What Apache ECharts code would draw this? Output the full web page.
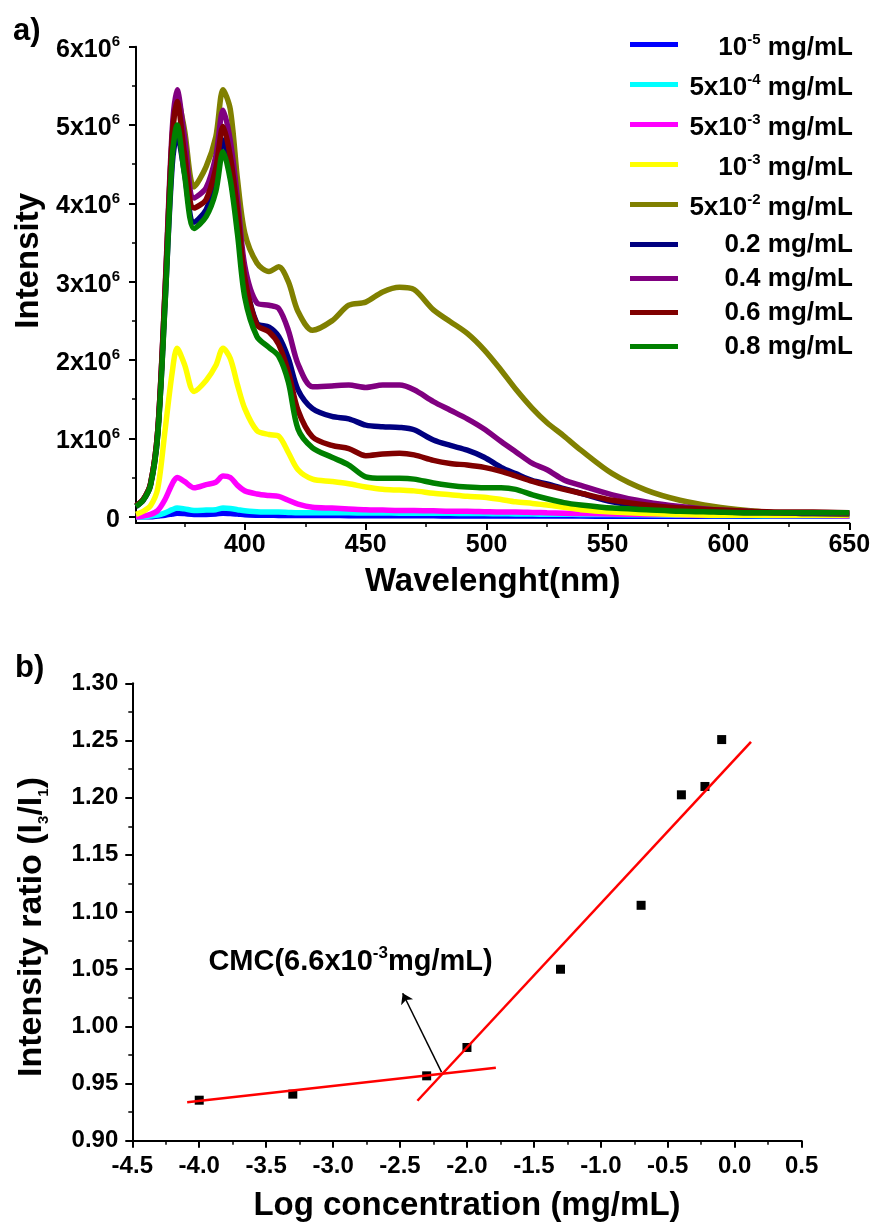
<!DOCTYPE html>
<html><head><meta charset="utf-8">
<script src="https://cdn.jsdelivr.net/npm/echarts@6/dist/echarts.min.js"></script>
<style>html,body{margin:0;padding:0;background:#fff}#c{width:874px;height:1228px}</style>
</head><body><div id="c"></div>
<script>
// ---------- data (a): emission spectra, intensity in units of 10^6 ----------
const wavelengths = [355,358,361,364,367,370,372,375,379,384,388,391,394,397,400,405,410,414,418,422,428,436,443,450,457,464,470,478,485,492,499,506,512,519,525,532,539,552,566,580,594,608,621,635,650];
const c1e5 = [0,0,0,0.01,0.02,0.035,0.045,0.04,0.03,0.03,0.035,0.045,0.04,0.035,0.025,0.02,0.018,0.017,0.016,0.015,0.015,0.015,0.014,0.013,0.012,0.012,0.011,0.011,0.01,0.01,0.01,0.01,0.01,0.009,0.009,0.008,0.008,0.007,0.006,0.006,0.005,0.005,0.005,0.005,0.005];
const c5e4 = [0,0,0.01,0.02,0.05,0.09,0.11,0.1,0.08,0.085,0.09,0.11,0.105,0.09,0.075,0.065,0.06,0.06,0.055,0.05,0.05,0.05,0.05,0.048,0.047,0.046,0.045,0.044,0.043,0.042,0.04,0.038,0.036,0.034,0.032,0.031,0.03,0.027,0.024,0.02,0.017,0.015,0.013,0.012,0.01];
const c5e3 = [0,0.01,0.03,0.08,0.22,0.42,0.5,0.45,0.37,0.41,0.44,0.52,0.5,0.4,0.33,0.29,0.27,0.26,0.21,0.16,0.12,0.11,0.1,0.09,0.085,0.08,0.08,0.075,0.07,0.07,0.065,0.06,0.06,0.055,0.05,0.045,0.04,0.035,0.03,0.025,0.02,0.02,0.015,0.015,0.01];
const c1e3 = [0.03,0.07,0.14,0.36,1.1,1.85,2.15,1.95,1.6,1.74,1.93,2.15,2.02,1.68,1.38,1.1,1.05,1.03,0.82,0.6,0.48,0.45,0.42,0.38,0.35,0.34,0.33,0.3,0.28,0.26,0.25,0.22,0.19,0.17,0.15,0.12,0.09,0.06,0.04,0.03,0.02,0.02,0.02,0.02,0.02];
const c5e2 = [0.14,0.22,0.42,1.1,2.85,4.85,5.35,4.95,4.21,4.47,4.85,5.45,5.2,4.3,3.62,3.24,3.13,3.19,3.0,2.62,2.38,2.5,2.7,2.74,2.87,2.93,2.9,2.64,2.49,2.34,2.13,1.87,1.63,1.38,1.2,1.03,0.85,0.55,0.34,0.21,0.13,0.08,0.05,0.04,0.03];
const c02 = [0.13,0.21,0.4,1.05,2.72,4.5,4.88,4.4,3.76,3.92,4.3,4.81,4.45,3.8,3.05,2.47,2.42,2.3,2.02,1.62,1.38,1.28,1.25,1.17,1.15,1.14,1.11,0.98,0.91,0.85,0.76,0.63,0.55,0.46,0.42,0.36,0.3,0.19,0.13,0.09,0.07,0.05,0.05,0.04,0.04];
const c04 = [0.14,0.22,0.42,1.1,2.9,4.95,5.45,4.85,4.07,4.2,4.6,5.19,4.8,4.05,3.2,2.73,2.7,2.66,2.38,1.95,1.66,1.67,1.68,1.65,1.68,1.68,1.62,1.47,1.36,1.25,1.12,0.96,0.83,0.68,0.6,0.47,0.4,0.28,0.19,0.13,0.09,0.07,0.05,0.05,0.04];
const c06 = [0.14,0.22,0.42,1.1,2.85,4.85,5.3,4.65,3.94,4.05,4.45,4.98,4.6,3.9,3.05,2.45,2.36,2.2,1.85,1.36,1.02,0.91,0.87,0.78,0.8,0.81,0.79,0.72,0.68,0.66,0.63,0.58,0.52,0.45,0.4,0.35,0.3,0.21,0.15,0.11,0.09,0.07,0.06,0.06,0.05];
const c08 = [0.13,0.21,0.4,1.05,2.7,4.6,5.0,4.38,3.68,3.83,4.15,4.66,4.3,3.6,2.8,2.3,2.16,2.05,1.72,1.12,0.88,0.76,0.66,0.51,0.49,0.49,0.48,0.43,0.4,0.38,0.37,0.37,0.35,0.28,0.23,0.18,0.15,0.11,0.09,0.07,0.06,0.05,0.05,0.05,0.05];
const seriesNames = ['10^-5 mg/mL','5x10^-4 mg/mL','5x10^-3 mg/mL','10^-3 mg/mL','5x10^-2 mg/mL','0.2 mg/mL','0.4 mg/mL','0.6 mg/mL','0.8 mg/mL'];
const legendParts = [['10','-5'],['5x10','-4'],['5x10','-3'],['10','-3'],['5x10','-2'],['0.2',null],['0.4',null],['0.6',null],['0.8',null]];
const xTicksA = [400,450,500,550,600,650];
const xMinorA = [375,425,475,525,575,625];
const yTicksA = [0,1,2,3,4,5,6];
const yMinorA = [0.5,1.5,2.5,3.5,4.5,5.5];

// ---------- data (b): I3/I1 ratio vs log concentration ----------
const logConc = [-4.0,-3.301,-2.301,-2.0,-1.301,-0.699,-0.398,-0.222,-0.097];
const ratio = [0.9355,0.9408,0.9568,0.9816,1.050,1.1059,1.2025,1.2098,1.2508];
const fitLow = [[-4.09,0.9338],[-1.784,0.9638]];
const fitHigh = [[-2.37,0.935],[0.122,1.2488]];
const arrowFrom = [-2.19,0.960];
const arrowTo = [-2.48,1.029];
const cmcAnchor = [-2.87,1.059];

// ---------- styles ----------
const FF = '"Liberation Sans", Arial, sans-serif';
const colors = ['#0000FF','#00FFFF','#FF00FF','#FFFF00','#808000','#000080','#800080','#800000','#008000'];
const spectra = [c1e5,c5e4,c5e3,c1e3,c5e2,c02,c04,c06,c08];
const B = 'bold';
const axisLineStyle = {show:true, onZero:false, lineStyle:{color:'#000', width:2}};
const hiddenLine = {show:false, onZero:false};

const chart = echarts.init(document.getElementById('c'), null, {renderer:'canvas'});

const option = {
  animation:false,
  backgroundColor:'#fff',
  textStyle:{fontFamily:FF, fontWeight:B, color:'#000'},
  title:[
    {text:'a)', left:13, top:16, padding:0, textStyle:{fontFamily:FF, fontSize:31, fontWeight:B, color:'#000'}},
    {text:'b)', left:15, top:653, padding:0, textStyle:{fontFamily:FF, fontSize:31, fontWeight:B, color:'#000'}}
  ],
  legend:{
    data:seriesNames, orient:'vertical', align:'left', right:21, top:32, padding:0, itemGap:8,
    itemWidth:48, itemHeight:5, icon:'rect',
    formatter:function(name){
      const p = legendParts[seriesNames.indexOf(name)];
      return p[1] ? '{m|'+p[0]+'}{s|'+p[1]+'}{m| mg/mL}' : '{p|'+p[0]+' mg/mL}';
    },
    textStyle:{
      width:170, fontFamily:FF, fontSize:26, fontWeight:B, color:'#000',
      rich:{
        m:{fontFamily:FF, fontSize:26, fontWeight:B, lineHeight:25, padding:[3,0,3,0], verticalAlign:'top', align:'right'},
        s:{fontFamily:FF, fontSize:15, fontWeight:B, lineHeight:15, verticalAlign:'top', align:'right'},
        p:{fontFamily:FF, fontSize:26, fontWeight:B, lineHeight:25, verticalAlign:'top', align:'right'}
      }
    }
  },
  grid:[
    {left:136, top:46.7, width:713.3, height:476.3},
    {left:132.3, top:683.3, width:669.3, height:457.5}
  ],
  xAxis:[
    {gridIndex:0, type:'value', position:'bottom', min:355, max:650, axisLine:axisLineStyle, splitLine:{show:false},
     axisTick:{show:true, customValues:xTicksA, length:7, lineStyle:{color:'#000', width:2}},
     axisLabel:{customValues:xTicksA, fontSize:25, fontWeight:B, fontFamily:FF, color:'#000', margin:10},
     name:'Wavelenght(nm)', nameLocation:'middle', nameGap:42,
     nameTextStyle:{fontSize:33, fontWeight:B, fontFamily:FF, color:'#000'}},
    {gridIndex:0, type:'value', position:'bottom', min:355, max:650, axisLine:hiddenLine, splitLine:{show:false},
     axisTick:{show:true, customValues:xMinorA, length:4, lineStyle:{color:'#000', width:1.5}},
     axisLabel:{show:false}},
    {gridIndex:1, type:'value', position:'bottom', min:-4.5, max:0.5, interval:0.5, axisLine:axisLineStyle, splitLine:{show:false},
     axisTick:{show:true, length:7, lineStyle:{color:'#000', width:2}},
     minorTick:{show:true, splitNumber:2, length:4, lineStyle:{color:'#000', width:1.5}},
     axisLabel:{fontSize:24, fontWeight:B, fontFamily:FF, color:'#000', margin:14, formatter:v=>v.toFixed(1)},
     name:'Log concentration (mg/mL)', nameLocation:'middle', nameGap:49,
     nameTextStyle:{fontSize:33, fontWeight:B, fontFamily:FF, color:'#000'}}
  ],
  yAxis:[
    {gridIndex:0, type:'value', position:'left', min:-0.08, max:6, axisLine:axisLineStyle, splitLine:{show:false},
     axisTick:{show:true, customValues:yTicksA, length:7, lineStyle:{color:'#000', width:2}},
     axisLabel:{customValues:yTicksA, margin:16, color:'#000', fontFamily:FF, fontWeight:B, fontSize:25,
       formatter:v=> v===0 ? '{m|0}' : '{m|'+v+'x10}{s|6}',
       rich:{
         m:{fontFamily:FF, fontSize:25, fontWeight:B, lineHeight:25, padding:[3,0,0,0], verticalAlign:'top'},
         s:{fontFamily:FF, fontSize:15, fontWeight:B, lineHeight:15, verticalAlign:'top'}
       }},
     name:'Intensity', nameLocation:'middle', nameGap:86,
     nameTextStyle:{fontSize:33, fontWeight:B, fontFamily:FF, color:'#000', padding:[0,0,0,48]}},
    {gridIndex:0, type:'value', position:'left', min:-0.08, max:6, axisLine:hiddenLine, splitLine:{show:false},
     axisTick:{show:true, customValues:yMinorA, length:4, lineStyle:{color:'#000', width:1.5}},
     axisLabel:{show:false}},
    {gridIndex:1, type:'value', position:'left', min:0.9, max:1.3, interval:0.05, axisLine:axisLineStyle, splitLine:{show:false},
     axisTick:{show:true, length:7, lineStyle:{color:'#000', width:2}},
     minorTick:{show:true, splitNumber:2, length:4, lineStyle:{color:'#000', width:1.5}},
     axisLabel:{fontSize:24, fontWeight:B, fontFamily:FF, color:'#000', margin:14, formatter:v=>v.toFixed(2)},
     name:'{t|Intensity ratio (I}{b|3}{t|/I}{b|1}{t|)}', nameLocation:'middle', nameGap:84,
     nameTextStyle:{fontSize:34, fontWeight:B, fontFamily:FF, color:'#000', padding:[0,30,0,0],
       rich:{
         t:{fontFamily:FF, fontSize:34, fontWeight:B, lineHeight:34, verticalAlign:'top'},
         b:{fontFamily:FF, fontSize:15, fontWeight:B, lineHeight:15, padding:[22,0,0,0], verticalAlign:'top'}
       }}}
  ],
  series: spectra.map((vals,i)=>({
    type:'line', name:seriesNames[i], xAxisIndex:0, yAxisIndex:0,
    data: wavelengths.map((w,j)=>[w, vals[j]]),
    showSymbol:false, symbol:'none', smooth:0.3,
    lineStyle:{width:5.5, color:colors[i]}, itemStyle:{color:colors[i]}
  })).concat([
    {type:'line', name:'fitLow', xAxisIndex:2, yAxisIndex:2, data:fitLow, symbol:'none',
     lineStyle:{color:'#FF0000', width:2.5}, silent:true},
    {type:'line', name:'fitHigh', xAxisIndex:2, yAxisIndex:2, data:fitHigh, symbol:'none',
     lineStyle:{color:'#FF0000', width:2.5}, silent:true},
    {type:'scatter', name:'ratio', xAxisIndex:2, yAxisIndex:2, data:logConc.map((x,i)=>[x, ratio[i]]),
     symbol:'rect', symbolSize:9, itemStyle:{color:'#000', opacity:1}},
    {type:'lines', coordinateSystem:'cartesian2d', xAxisIndex:2, yAxisIndex:2,
     data:[{coords:[arrowFrom, arrowTo]}], symbol:['none','arrow'], symbolSize:10,
     lineStyle:{color:'#000', width:1.5, opacity:1}, silent:true},
    {type:'scatter', name:'cmc', xAxisIndex:2, yAxisIndex:2, data:[cmcAnchor], symbolSize:0, silent:true,
     itemStyle:{opacity:1},
     label:{show:true, position:'inside', color:'#000', opacity:1,
       formatter:'{m|CMC(6.6x10}{s|-3}{m|mg/mL)}',
       rich:{
         m:{fontFamily:FF, fontSize:29, fontWeight:B, color:'#000', lineHeight:29, padding:[3,0,0,0], verticalAlign:'top'},
         s:{fontFamily:FF, fontSize:17, fontWeight:B, color:'#000', lineHeight:17, verticalAlign:'top'}
       }}}
  ])
};
chart.setOption(option);
</script>
</body></html>
